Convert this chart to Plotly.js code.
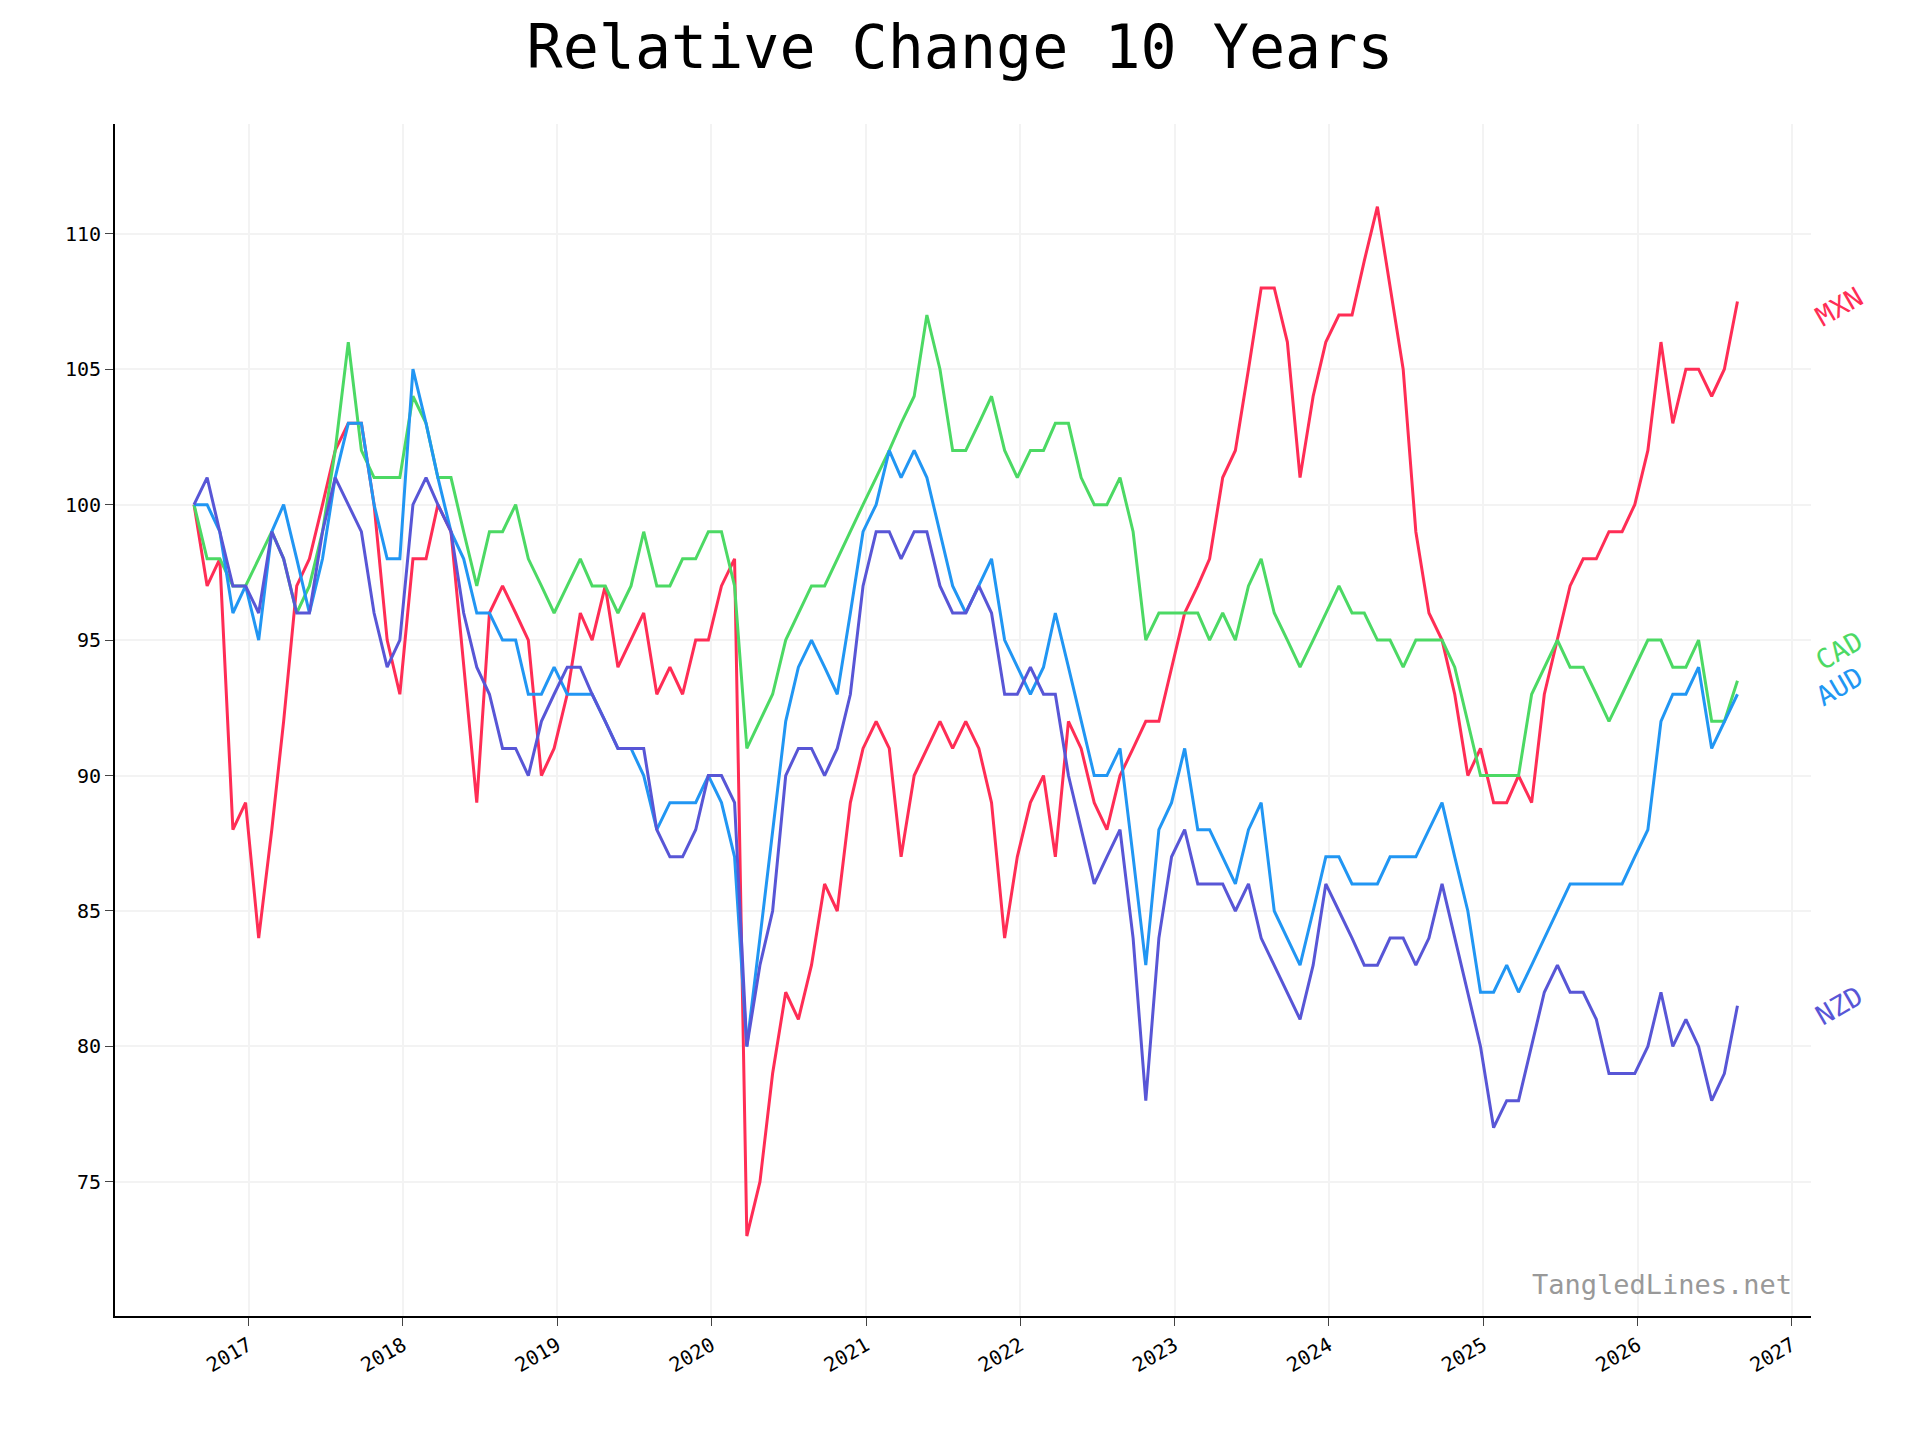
<!DOCTYPE html>
<html>
<head>
<meta charset="utf-8">
<script src="https://cdn.plot.ly/plotly-3.0.1.min.js"></script>
<style>body{margin:0;background:#fff}#myDiv{width:1920px;height:1440px}</style>
</head>
<body>
<div id="myDiv"></div>
<script>
// monthly readings, Aug 2016 .. Aug 2026
var startYear = 2016, startMonth = 8;

var mxn = [100,97,98,88,89,84,88,92,97,98,100,102,103,103,100,95,93,98,98,100,99,94,89,96,97,96,95,90,91,93,96,95,97,94,95,96,93,94,93,95,95,97,98,73,75,79,82,81,83,86,85,89,91,92,91,87,90,91,92,91,92,91,89,84,87,89,90,87,92,91,89,88,90,91,92,92,94,96,97,98,101,102,105,108,108,106,101,104,106,107,107,109,111,108,105,99,96,95,93,90,91,89,89,90,89,93,95,97,98,98,99,99,100,102,106,103,105,105,104,105,107.5];
var cad = [100,98,98,97,97,98,99,98,96,97,99,102,106,102,101,101,101,104,103,101,101,99,97,99,99,100,98,97,96,97,98,97,97,96,97,99,97,97,98,98,99,99,97,91,92,93,95,96,97,97,98,99,100,101,102,103,104,107,105,102,102,103,104,102,101,102,102,103,103,101,100,100,101,99,95,96,96,96,96,95,96,95,97,98,96,95,94,95,96,97,96,96,95,95,94,95,95,95,94,92,90,90,90,90,93,94,95,94,94,93,92,93,94,95,95,94,94,95,92,92,93.5];
var aud = [100,100,99,96,97,95,99,100,98,96,98,101,103,103,100,98,98,105,103,101,99,98,96,96,95,95,93,93,94,93,93,93,92,91,91,90,88,89,89,89,90,89,87,80,84,88,92,94,95,94,93,96,99,100,102,101,102,101,99,97,96,97,98,95,94,93,94,96,94,92,90,90,91,87,83,88,89,91,88,88,87,86,88,89,85,84,83,85,87,87,86,86,86,87,87,87,88,89,87,85,82,82,83,82,83,84,85,86,86,86,86,86,87,88,92,93,93,94,91,92,93];
var nzd = [100,101,99,97,97,96,99,98,96,96,99,101,100,99,96,94,95,100,101,100,99,96,94,93,91,91,90,92,93,94,94,93,92,91,91,91,88,87,87,88,90,90,89,80,83,85,90,91,91,90,91,93,97,99,99,98,99,99,97,96,96,97,96,93,93,94,93,93,90,88,86,87,88,84,78,84,87,88,86,86,86,85,86,84,83,82,81,83,86,85,84,83,83,84,84,83,84,86,84,82,80,77,78,78,80,82,83,82,82,81,79,79,79,80,82,80,81,80,78,79,81.5];

var names = ['MXN', 'CAD', 'AUD', 'NZD'];
var colors = ['#ff2d55', '#4cd964', '#2196f3', '#5856d6'];
var labelY = [107.3, 94.6, 93.3, 81.5];

function dates(n){
  var out = [];
  for (var i = 0; i < n; i++){
    var m = startMonth - 1 + i;
    var y = startYear + Math.floor(m / 12);
    var mm = (m % 12) + 1;
    out.push(y + '-' + (mm < 10 ? '0' + mm : mm) + '-25');
  }
  return out;
}

var series = [mxn, cad, aud, nzd];
var data = series.map(function(s, i){
  return {x: dates(s.length), y: s, name: names[i], mode: 'lines', type: 'scatter',
          line: {color: colors[i], width: 3}};
});

var annotations = names.map(function(n, i){
  return {text: n, xref: 'paper', yref: 'y', x: 0.998, y: labelY[i], xanchor: 'left',
          showarrow: false, textangle: -30, font: {color: colors[i], size: 27}};
});
annotations.push({text: 'TangledLines.net', xref: 'paper', yref: 'paper', x: 0.99, y: 0.012,
  xanchor: 'right', yanchor: 'bottom', showarrow: false, font: {color: '#999', size: 27}});

var layout = {
  width: 1920, height: 1440,
  font: {family: 'DejaVu Sans Mono', color: '#000', size: 20},
  title: {text: 'Relative Change 10 Years', x: 0.5, y: 0.982, yanchor: 'top', font: {size: 60}},
  margin: {l: 115, r: 109, t: 124, b: 124},
  showlegend: false,
  plot_bgcolor: '#fff', paper_bgcolor: '#fff',
  xaxis: {type: 'date', range: ['2016-02-20', '2027-02-15'], dtick: 'M12', tick0: '2017-01-01',
          tickformat: '%Y', tickangle: -30, showgrid: true, gridcolor: '#f3f3f3', gridwidth: 2,
          showline: true, linecolor: '#000', linewidth: 2, ticks: 'outside', ticklen: 8, zeroline: false},
  yaxis: {range: [70.05, 114.05], tickvals: [75, 80, 85, 90, 95, 100, 105, 110],
          showgrid: true, gridcolor: '#f3f3f3', gridwidth: 2,
          showline: true, linecolor: '#000', linewidth: 2, ticks: 'outside', ticklen: 8, zeroline: false},
  annotations: annotations,
  hovermode: 'closest'
};

Plotly.newPlot('myDiv', data, layout, {displayModeBar: false});
</script>
</body>
</html>
